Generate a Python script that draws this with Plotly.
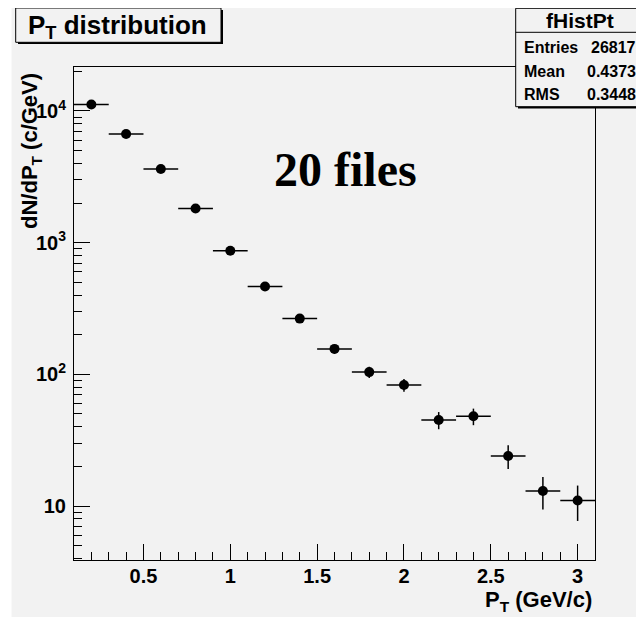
import plotly.graph_objects as go

# ---- data ----
pt_centers = [0.2, 0.4, 0.6, 0.8, 1.0, 1.2, 1.4, 1.6, 1.8, 2.0, 2.2, 2.4, 2.6, 2.8, 3.0]
counts = [11200, 6690, 3630, 1815, 869, 465, 265, 156, 104, 83, 45, 48, 24, 13, 11]
count_err = [106, 82, 60, 43, 29.5, 21.6, 16.3, 12.5, 10.2, 9.1, 6.7, 6.9, 4.9, 3.6, 3.3]
bin_half = [0.1] * len(pt_centers)

x_tick_vals = [0.5, 1, 1.5, 2, 2.5, 3]
x_tick_text = ["0.5", "1", "1.5", "2", "2.5", "3"]
y_tick_vals = [10, 100, 1000, 10000]
y_tick_text = ["10", "10<sup>2</sup>", "10<sup>3</sup>", "10<sup>4</sup>"]
y_minor_vals = [m * 10 ** k for k in range(0, 5) for m in range(2, 10)]

stats_title = "fHistPt"
stats_rows = [("Entries", "26817"), ("Mean", "0.4373"), ("RMS", "0.3448")]
hist_title = "P<sub>T</sub> distribution"
note_text = "20 files"

# ---- geometry (screen pixels; page body has an 8px margin) ----
OFF = 8
W, H = 644 - OFF, 617 - OFF
FL, FR, FT, FB = 74, 595, 67, 560          # frame edges in screen pixels
ML, MR, MT, MB = FL - OFF, 644 - FR, FT - OFF, 617 - FB
PW, PH = FR - FL, FB - FT
BG = "#f2f2f2"


def px(x):
    return (x - FL) / PW


def py(y):
    return (FB - y) / PH


fig = go.Figure()
fig.add_trace(go.Scatter(
    x=pt_centers, y=counts, mode="markers",
    marker=dict(color="black", size=10, symbol="circle"),
    error_x=dict(type="data", array=bin_half, width=0, thickness=1.5, color="black"),
    error_y=dict(type="data", array=count_err, width=0, thickness=1.5, color="black"),
    showlegend=False, hoverinfo="skip",
))

font_b = dict(family="Liberation Sans, Arial, sans-serif", color="black", weight=700)

fig.update_layout(
    width=W, height=H,
    margin=dict(l=ML, r=MR, t=MT, b=MB, pad=0),
    paper_bgcolor=BG, plot_bgcolor=BG,
    showlegend=False,
    xaxis=dict(
        range=[0.1, 3.1], showgrid=False, zeroline=False,
        showline=True, linecolor="black", linewidth=1, mirror=True,
        ticks="inside", ticklen=16, tickwidth=1, tickcolor="black",
        tickvals=x_tick_vals, ticktext=x_tick_text,
        tickfont=dict(size=20, **font_b),
        ticklabelstandoff=-2,
        minor=dict(dtick=0.1, tick0=0, ticks="inside", ticklen=8, tickwidth=1,
                   tickcolor="black", showgrid=False),
    ),
    yaxis=dict(
        type="log", range=[0.590, 4.334], showgrid=False, zeroline=False,
        showline=True, linecolor="black", linewidth=1, mirror=True,
        ticks="inside", ticklen=16, tickwidth=1, tickcolor="black",
        tickvals=y_tick_vals, ticktext=y_tick_text,
        tickfont=dict(size=20, **font_b),
        ticklabelstandoff=3,
        minor=dict(tickmode="array", tickvals=y_minor_vals, ticks="inside", ticklen=8,
                   tickwidth=1, tickcolor="black", showgrid=False),
    ),
)

shapes = []
# white strip at left edge of the image
shapes.append(dict(type="rect", xref="paper", yref="paper", x0=px(-5), x1=px(11.5),
                   y0=py(-5), y1=py(H + 20), fillcolor="white", line=dict(width=0), layer="above"))
# title box with shadow
shapes.append(dict(type="rect", xref="paper", yref="paper", x0=px(18), x1=px(223),
                   y0=py(44), y1=py(10), fillcolor="black", line=dict(width=0), layer="above"))
shapes.append(dict(type="rect", xref="paper", yref="paper", x0=px(15.7), x1=px(221),
                   y0=py(42.3), y1=py(8), fillcolor=BG, line=dict(color="black", width=1), layer="above"))
# stats box with shadow
shapes.append(dict(type="rect", xref="paper", yref="paper", x0=px(518), x1=px(650),
                   y0=py(108.5), y1=py(10), fillcolor="black", line=dict(width=0), layer="above"))
shapes.append(dict(type="rect", xref="paper", yref="paper", x0=px(515.7), x1=px(650),
                   y0=py(106.7), y1=py(8.3), fillcolor=BG, line=dict(color="black", width=1), layer="above"))
shapes.append(dict(type="line", xref="paper", yref="paper", x0=px(515.7), x1=px(650),
                   y0=py(32.3), y1=py(32.3), line=dict(color="black", width=1), layer="above"))
fig.update_layout(shapes=shapes)

ann = []
ann.append(dict(text=hist_title, xref="paper", yref="paper", x=px(26), y=py(26),
                xanchor="left", yanchor="middle", showarrow=False,
                font=dict(size=26, **font_b)))
ann.append(dict(text=stats_title, xref="paper", yref="paper", x=px(580), y=py(20.5),
                xanchor="center", yanchor="middle", showarrow=False,
                font=dict(size=21, **font_b)))
row_y = [47.3, 71, 94.3]
for (lab, val), yy in zip(stats_rows, row_y):
    ann.append(dict(text=lab, xref="paper", yref="paper", x=px(522), y=py(yy),
                    xanchor="left", yanchor="middle", showarrow=False,
                    font=dict(size=16, **font_b)))
    ann.append(dict(text=val, xref="paper", yref="paper", x=px(638), y=py(yy),
                    xanchor="right", yanchor="middle", showarrow=False,
                    font=dict(size=16, **font_b)))
ann.append(dict(text=note_text, xref="paper", yref="paper", x=px(345), y=py(169),
                xanchor="center", yanchor="middle", showarrow=False,
                font=dict(size=48, family="Liberation Serif, Times New Roman, serif",
                          color="black", weight=700)))
ann.append(dict(text="dN/dP<sub>T</sub> (c/GeV)", xref="paper", yref="paper", x=px(31), y=py(151),
                xanchor="center", yanchor="middle", showarrow=False, textangle=-90,
                font=dict(size=22, **font_b)))
ann.append(dict(text="P<sub>T</sub> (GeV/c)", xref="paper", yref="paper", x=px(594), y=py(601),
                xanchor="right", yanchor="middle", showarrow=False,
                font=dict(size=22, **font_b)))
fig.update_layout(annotations=ann)

fig.write_html("out.html")
